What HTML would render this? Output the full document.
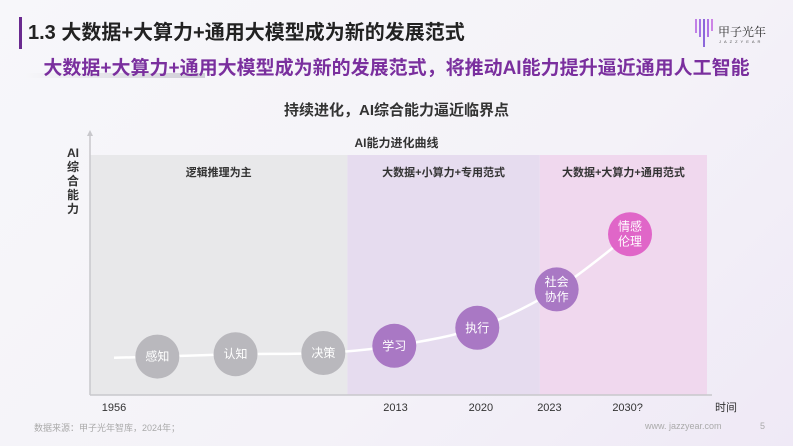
<!DOCTYPE html>
<html><head><meta charset="utf-8">
<style>
body{margin:0;width:793px;height:446px;overflow:hidden;font-family:"Liberation Sans","Noto Sans CJK SC",sans-serif;background:linear-gradient(135deg,#f7f7fa 0%,#f4f2f8 60%,#efe9f6 100%);position:relative}
.abs{position:absolute}
</style></head><body>
<div class="abs" style="left:19px;top:17px;width:3px;height:32px;background:#6a2a8f"></div>
<div class="abs" style="left:28px;top:18px;font-size:20px;font-weight:bold;color:#222;line-height:30px">1.3 大数据+大算力+通用大模型成为新的发展范式</div>
<div class="abs" style="left:694px;top:17px;width:80px;height:32px">
<svg width="20" height="32"><g stroke-width="1.5"><line x1="2" y1="2" x2="2" y2="16" stroke="#b05be0"/><line x1="6" y1="2" x2="6" y2="20" stroke="#8a4be0"/><line x1="10" y1="2" x2="10" y2="30" stroke="#6a3ad0"/><line x1="14" y1="2" x2="14" y2="20" stroke="#9a4be0"/><line x1="18" y1="2" x2="18" y2="14" stroke="#c060e0"/></g></svg>
<span class="abs" style="left:24px;top:6px;font-size:12px;color:#333;font-family:'Noto Serif CJK SC',serif">甲子光年</span>
<span class="abs" style="left:25px;top:22px;font-size:4px;color:#555;letter-spacing:3px">JAZZYEAR</span>
</div>
<div class="abs" style="left:25px;top:73px;width:180px;height:5px;background:linear-gradient(90deg,rgba(180,180,190,0),rgba(180,180,190,.6))"></div>
<div class="abs" style="left:0;width:793px;top:56px;text-align:center;font-size:19px;font-weight:bold;color:#7a2f9e;line-height:26px">大数据+大算力+通用大模型成为新的发展范式，将推动AI能力提升逼近通用人工智能</div>
<div class="abs" style="left:0;width:793px;top:99px;text-align:center;font-size:15px;font-weight:bold;color:#333">持续进化，AI综合能力逼近临界点</div>
<div class="abs" style="left:0;width:793px;top:134px;text-align:center;font-size:12px;font-weight:bold;color:#333">AI能力进化曲线</div>
<div class="abs" style="left:66px;top:146px;width:14px;font-size:12px;font-weight:bold;color:#333;line-height:14px;text-align:center">AI<br>综<br>合<br>能<br>力</div>
<svg class="abs" style="left:0;top:0" width="793" height="446" id="chart"></svg>
<div class="abs" style="left:34px;top:421px;font-size:9px;color:#aaa">数据来源：甲子光年智库，2024年；</div>
<div class="abs" style="left:645px;top:421px;font-size:9px;color:#aaa">www. jazzyear.com</div>
<div class="abs" style="left:760px;top:421px;font-size:9px;color:#aaa">5</div>
<script>
const stageLabels=["感知","认知","决策","学习","执行","社会\n协作","情感\n伦理"];
const stageTime=[0.56,1.21,1.94,2.53,3.22,3.88,4.49];
const stageLevel=[16,17,17.5,20.5,28,44,67];
const stageColors=["#b9b8bd","#b9b8bd","#b9b8bd","#a978c4","#a978c4","#a978c4","#e066c8"];
const eraLabels=["逻辑推理为主","大数据+小算力+专用范式","大数据+大算力+通用范式"];
const eraStart=[0,2.14,3.74];
const eraEnd=[2.14,3.74,5.13];
const eraColors=["#e8e8ea","#e6dcef","#f0d8ee"];
const tickLabels=["1956","2013","2020","2023","2030?"];
const tickTime=[0.2,2.54,3.25,3.82,4.47];
const NS="http://www.w3.org/2000/svg",svg=document.getElementById('chart');
const X0=90,X1=707,Y0=395,Y1=155;
const xs=t=>X0+t*(X1-X0)/5.13, ys=v=>Y0-v*(Y0-Y1)/100;
function mk(tag,a){const e=document.createElementNS(NS,tag);for(const k in a)e.setAttribute(k,a[k]);svg.appendChild(e);return e;}
eraLabels.forEach((l,i)=>{
 const r=mk('rect',{x:xs(eraStart[i]),y:Y1,width:xs(eraEnd[i])-xs(eraStart[i]),height:Y0-Y1,fill:eraColors[i]});
 
 
 const t=mk('text',{x:(xs(eraStart[i])+xs(eraEnd[i]))/2,y:Y1+21,'text-anchor':'middle','font-size':11,'font-weight':'bold',fill:'#333'});
 t.textContent=l;
 
 
});
mk('line',{x1:X0,y1:Y0,x2:X1+5,y2:Y0,stroke:'#c8c8cc','stroke-width':1.5});
mk('line',{x1:X0,y1:Y0,x2:X0,y2:132,stroke:'#c8c8cc','stroke-width':1.5});
mk('path',{d:`M${X0-3} 136 L${X0} 130 L${X0+3} 136Z`,fill:'#c8c8cc'});
// curve
const pts=[[xs(0.2),ys(15.5)]].concat(stageTime.map((t,i)=>[xs(t),ys(stageLevel[i])]));
let d=`M${pts[0][0]} ${pts[0][1]}`;
for(let i=0;i<pts.length-1;i++){const p0=pts[Math.max(0,i-1)],p1=pts[i],p2=pts[i+1],p3=pts[Math.min(pts.length-1,i+2)];
 d+=` C${p1[0]+(p2[0]-p0[0])/6} ${p1[1]+(p2[1]-p0[1])/6} ${p2[0]-(p3[0]-p1[0])/6} ${p2[1]-(p3[1]-p1[1])/6} ${p2[0]} ${p2[1]}`;}
const c=mk('path',{d:d,fill:'none',stroke:'#fff','stroke-width':2.5});


stageLabels.forEach((l,i)=>{
 const cx=xs(stageTime[i]),cy=ys(stageLevel[i]);
 const ci=mk('circle',{cx:cx,cy:cy,r:22,fill:stageColors[i]});
 
 
 const lines=l.split('\n');
 lines.forEach((s,j)=>{const t=mk('text',{x:cx,y:cy+4+(j-(lines.length-1)/2)*15,'text-anchor':'middle','font-size':12,fill:'#fff'});t.textContent=s;
 
 });
});
tickLabels.forEach((l,i)=>{const t=mk('text',{x:xs(tickTime[i]),y:411,'text-anchor':'middle','font-size':11,fill:'#333'});t.textContent=l;
 
 });
const xt=mk('text',{x:726,y:411,'text-anchor':'middle','font-size':11,fill:'#333'});xt.textContent='时间';


</script>
</body></html>
